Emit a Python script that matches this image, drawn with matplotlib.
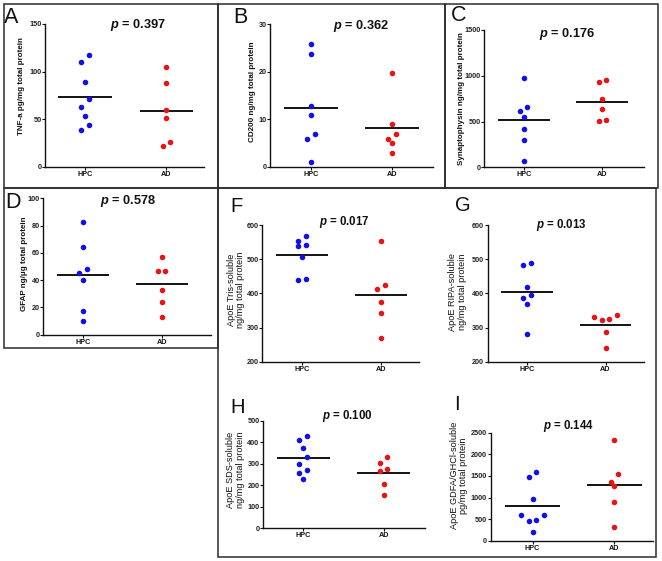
import numpy as np
import matplotlib
matplotlib.use("Agg")
import matplotlib.pyplot as plt
from matplotlib.patches import Rectangle

plt.rcParams['font.family'] = ['Liberation Sans', 'DejaVu Sans']
plt.rcParams['mathtext.fontset'] = 'custom'
plt.rcParams['mathtext.rm'] = 'Liberation Sans'
plt.rcParams['mathtext.it'] = 'Liberation Sans:italic'
plt.rcParams['mathtext.bf'] = 'Liberation Sans:bold'
plt.rcParams['mathtext.bfit'] = 'Liberation Sans:italic:bold'

# ---------------- data ----------------
groups = ['HPC', 'AD']

tnf_hpc = [117, 110, 89, 71, 63, 53, 44, 39]
tnf_ad = [105, 88, 60, 51, 26, 22]

cd200_hpc = [25.9, 23.8, 12.8, 10.9, 6.9, 5.9, 0.9]
cd200_ad = [19.8, 8.9, 6.9, 5.9, 4.9, 2.9]

syn_hpc = [980, 655, 615, 553, 422, 295, 73]
syn_ad = [955, 928, 746, 637, 521, 510]

gfap_hpc = [82.4, 64, 48.2, 45.2, 40.1, 17.1, 10.0]
gfap_ad = [57.2, 47, 47, 33, 24, 13]

tris_hpc = [568, 552, 541, 538, 507, 443, 438]
tris_ad = [554, 424, 412, 374, 342, 268]

ripa_hpc = [489, 484, 418, 394, 387, 369, 280]
ripa_ad = [338, 331, 326, 322, 286, 241]

sds_hpc = [427, 410, 375, 330, 297, 271, 258, 229]
sds_ad = [331, 305, 277, 268, 204, 153]

gdfa_hpc = [1582, 1466, 957, 602, 602, 486, 463, 208]
gdfa_ad = [2323, 1535, 1358, 1258, 903, 309]

p_values = ['0.397', '0.362', '0.176', '0.578', '0.017', '0.013', '0.100', '0.144']
letters = ['A', 'B', 'C', 'D', 'F', 'G', 'H', 'I']
ylabels = ['TNF-a pg/mg total protein',
           'CD200 ng/mg total protein',
           'Synaptophysin ng/mg total protein',
           'GFAP ng/\u03bcg total protein',
           'ApoE Tris-soluble\nng/mg total protein',
           'ApoE RIPA-soluble\nng/mg total protein',
           'ApoE SDS-soluble\nng/mg total protein',
           'ApoE GDFA/GHCl-soluble\npg/mg total protein']
yticks = [[0, 50, 100, 150], [0, 10, 20, 30], [0, 500, 1000, 1500],
          [0, 20, 40, 60, 80, 100], [200, 300, 400, 500, 600],
          [200, 300, 400, 500, 600], [0, 100, 200, 300, 400, 500],
          [0, 500, 1000, 1500, 2000, 2500]]
series = [(tnf_hpc, tnf_ad), (cd200_hpc, cd200_ad), (syn_hpc, syn_ad),
          (gfap_hpc, gfap_ad), (tris_hpc, tris_ad), (ripa_hpc, ripa_ad),
          (sds_hpc, sds_ad), (gdfa_hpc, gdfa_ad)]

# ---------------- layout (pixels) ----------------
W, H = 662, 561
fig = plt.figure(figsize=(W / 100, H / 100), dpi=100)

def fx(x):
    return x / W

def fy(y):
    return 1 - y / H

# axes box: left, top, right, bottom ; xlim
layout = [
    dict(box=(45, 24, 204, 167), xlim=(-0.49, 1.46), big=True,
         letter=(3.5, 23), p=(137.5, 27.8), yl=(22, 86)),
    dict(box=(270.3, 24.3, 432.7, 166.7), xlim=(-0.50, 1.50), big=True,
         letter=(233.5, 23), p=(361, 29.3), yl=(252.5, 91.7)),
    dict(box=(484.3, 30, 644, 167.3), xlim=(-0.50, 1.53), big=True,
         letter=(451, 20.8), p=(566.7, 37.3), yl=(461.7, 98.3)),
    dict(box=(43.3, 198.5, 210.7, 334.5), xlim=(-0.50, 1.62), big=True,
         letter=(5.5, 208.3), p=(128, 204.3), yl=(24.5, 264)),
    dict(box=(262.3, 225, 419, 361.7), xlim=(-0.50, 1.48), big=False,
         letter=(230.5, 211.7), p=(344, 225.2), yl=(236.3, 290)),
    dict(box=(487.7, 225, 644, 361.7), xlim=(-0.50, 1.49), big=False,
         letter=(454.5, 211.2), p=(561, 228.5), yl=(457.5, 291.7)),
    dict(box=(263, 420.7, 424.7, 528.3), xlim=(-0.50, 1.51), big=False,
         letter=(230.5, 413), p=(347, 418.5), yl=(235.5, 470)),
    dict(box=(490.7, 432.7, 653, 540.7), xlim=(-0.51, 1.47), big=False,
         letter=(454.0, 410), p=(568.3, 428.5), yl=(459.2, 475.8)),
]

BLUE = '#1010e6'
RED = '#e61414'


def swarm(ax, xc, vals, step_px=7.5, span_px=8.0):
    vals = np.asarray(vals, float)
    pts = ax.transData.transform(np.column_stack([np.full(len(vals), xc), vals]))
    ypx = pts[:, 1]
    unit_px = ax.transData.transform((1, 0))[0] - ax.transData.transform((0, 0))[0]
    order = np.argsort(-vals, kind='stable')
    grp = []
    for i in order:
        if grp and abs(ypx[grp[-1][0]] - ypx[i]) < span_px:
            grp[-1].append(i)
        else:
            grp.append([i])
    offs = np.zeros(len(vals))
    for g in grp:
        n = len(g)
        if n % 2:
            slots = [0.0]
            k = 1
            while len(slots) < n:
                slots += [-k, k]
                k += 1
        else:
            slots = []
            for j in range(n // 2):
                h = (n - 1) / 2 - j
                slots += [h, -h]
        for idx, sl in zip(g, slots):
            offs[idx] = sl * step_px / unit_px
    return xc + offs


for k, lay in enumerate(layout):
    l, t, r, b = lay['box']
    ax = fig.add_axes([fx(l), fy(b), (r - l) / W, (b - t) / H])
    yt = yticks[k]
    ax.set_xlim(*lay['xlim'])
    ax.set_ylim(yt[0], yt[-1])
    for s in ['top', 'right']:
        ax.spines[s].set_visible(False)
    for s in ['left', 'bottom']:
        ax.spines[s].set_linewidth(1.0)
        ax.spines[s].set_color('#111111')
    ax.set_yticks(yt)
    ax.set_yticklabels([str(v) for v in yt], fontsize=5.2, fontweight='bold',
                       color='#222222')
    ax.set_xticks([0, 1])
    ax.set_xticklabels(groups, fontsize=5.2, fontweight='bold', color='#111111')
    ax.tick_params(axis='y', length=2, width=0.8, pad=0.6, color='#111111')
    ax.tick_params(axis='x', length=2, width=0.8, pad=1.0, color='#111111')
    ax.patch.set_alpha(0)

    for gi, (vals, col) in enumerate(zip(series[k], [BLUE, RED])):
        xs = swarm(ax, gi, vals)
        ax.plot(xs, vals, 'o', ms=4.0, color=col, mec='none', clip_on=False,
                zorder=3)
        m = float(np.mean(vals))
        ax.plot([gi - 0.33, gi + 0.33], [m, m], color='black', lw=1.3,
                solid_capstyle='butt', zorder=2)

    big = lay['big']
    # panel letter
    fig.text(fx(lay['letter'][0]), fy(lay['letter'][1]), letters[k],
             fontsize=15.5 if big else 14.5, ha='left', va='baseline',
             color='#111111')
    # p value
    fig.text(fx(lay['p'][0]), fy(lay['p'][1]),
             r'$\mathbfit{p}$' + ' = ' + p_values[k],
             fontsize=9.2 if big else 8.3, fontweight='bold', ha='center',
             va='baseline', color='#111111')
    # y label
    fig.text(fx(lay['yl'][0]), fy(lay['yl'][1]), ylabels[k], rotation=90,
             fontsize=5.8 if big else 6.6,
             fontweight='bold' if big else 'normal',
             ha='center', va='center', multialignment='center',
             linespacing=1.05, color='#111111')

# ---------------- panel borders ----------------
def box(x0, y0, x1, y1):
    fig.add_artist(Rectangle((fx(x0), fy(y1)), (x1 - x0) / W, (y1 - y0) / H,
                             transform=fig.transFigure, fill=False,
                             ec='#2b2b2b', lw=1.1, zorder=10))

box(3.5, 3.5, 218, 188)
box(218, 3.5, 444.5, 188)
box(444.5, 3.5, 658, 188)
box(3.5, 188, 218, 348)
box(218, 188, 656, 557)

fig.savefig('out.png', dpi=100)
